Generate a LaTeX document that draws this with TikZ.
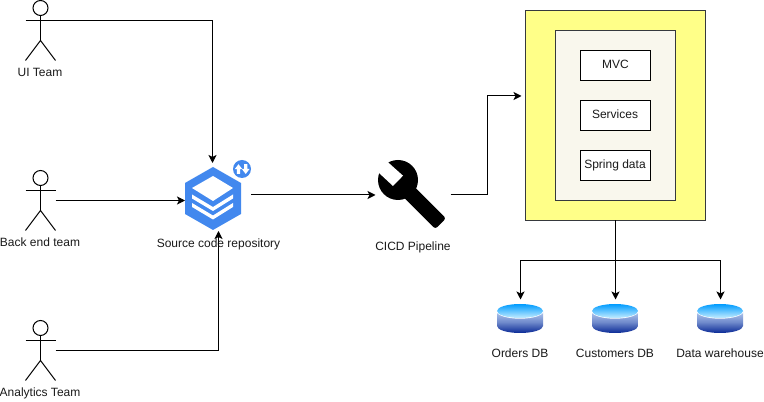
\documentclass[tikz,border=0pt]{standalone}
\usepackage{fontspec}
\setmainfont{Liberation Sans}
\usetikzlibrary{arrows.meta}
\definecolor{hexblue}{HTML}{4288EE}
\definecolor{boxedge}{HTML}{36393D}
\definecolor{txt}{HTML}{1A1A1A}
\definecolor{outeryellow}{HTML}{FFFF88}
\definecolor{innercream}{HTML}{F9F7ED}
\definecolor{cylmid}{HTML}{B4CBF0}
\definecolor{cyldark}{HTML}{0A2A96}
\definecolor{cyltop}{HTML}{009CFF}
\definecolor{cyllight}{HTML}{C4ECFF}
\tikzset{
  link/.style={draw=black,line width=0.75pt,-{Stealth[length=6pt,width=6pt,inset=1.5pt]}},
  label/.style={font=\fontsize{9}{11}\selectfont,text=txt,anchor=base,inner sep=0pt},
  actorbox/.style={inner sep=0pt,outer sep=0pt,minimum width=22.5pt,minimum height=45pt},
  outerbox/.style={draw=boxedge,line width=0.75pt,fill=outeryellow,inner sep=0pt,outer sep=0pt,minimum width=135pt,minimum height=157.5pt},
  innerbox/.style={draw=boxedge,line width=0.75pt,fill=innercream,inner sep=0pt,outer sep=0pt,minimum width=90pt,minimum height=127.5pt},
  layerbox/.style={draw=black,line width=0.75pt,fill=white,inner sep=0pt,outer sep=0pt,minimum width=52.5pt,minimum height=22.5pt},
  stick/.style={draw=black,line width=0.75pt},
  dbbox/.style={inner sep=0pt,outer sep=0pt,minimum width=34.5pt,minimum height=22pt},
}
\newcommand{\stickman}[2]{%
  \draw[stick] (#1,#2+7.5) circle (7.5);
  \draw[stick] (#1,#2+15) -- (#1,#2+40);
  \draw[stick] (#1-15,#2+20) -- (#1+15,#2+20);
  \draw[stick] (#1-15,#2+60) -- (#1,#2+40) -- (#1+15,#2+60);
}
\newcommand{\dbcyl}[1]{%
  \shade[top color=cylmid,bottom color=cyldark,middle color=cylmid!60!cyldark]
    (#1-23,311) -- (#1-23,326) arc[start angle=180,end angle=0,x radius=23,y radius=7]
    -- (#1+23,311) -- cycle;
  \fill[white] (#1,311) ellipse[x radius=23.7,y radius=7.7];
  \shade[top color=cyltop,bottom color=cyllight] (#1,311) ellipse[x radius=23,y radius=7];
}
\begin{document}
\begin{tikzpicture}[x=0.75pt,y=-0.75pt]
\useasboundingbox (0,0) rectangle (764,402);
\fill[white] (0,0) rectangle (764,402);

% actors
\stickman{40.5}{0.5}
\stickman{40.5}{170.5}
\stickman{40.5}{320.5}
\node[actorbox] (uiActor) at (40.5,30.5) {};
\node[actorbox] (backActor) at (40.5,200.5) {};
\node[actorbox] (anaActor) at (40.5,350.5) {};
\coordinate (uiStart) at (55.5,20.5);
\node[label] (uiLabel) at (40,77) {UI Team};
\node[label] (backLabel) at (40,247) {Back end team};
\node[label] (anaLabel) at (40,397) {Analytics Team};

% repository icon
\fill[hexblue] (213,167) -- (241,183) -- (241,214) -- (213,230) -- (185,214) -- (185,183) -- cycle;
\fill[white] (213,176) -- (233,188) -- (213,201) -- (192,188) -- cycle;
\fill[white] (192,194.5) -- (213,207) -- (233,194.5) -- (233,198.5) -- (213,211) -- (192,198.5) -- cycle;
\fill[white] (192,203) -- (213,215.5) -- (233,203) -- (233,207) -- (213,219.5) -- (192,207) -- cycle;
\fill[hexblue] (242,169) circle (9);
\fill[white] (238.5,164.2) -- (242.3,169.2) -- (240.2,169.2) -- (240.2,174) -- (236.8,174) -- (236.8,169.2) -- (234.7,169.2) -- cycle;
\fill[white] (245.7,174) -- (249.5,169) -- (247.4,169) -- (247.4,164.2) -- (244,164.2) -- (244,169) -- (241.9,169) -- cycle;
\node[inner sep=0pt,outer sep=0pt,minimum width=42pt,minimum height=47.25pt] (repoIcon) at (213,198.5) {};
\coordinate (repoTop) at (212.5,163);
\coordinate (repoLeft) at (185,200.5);
\coordinate (repoBottom) at (218.5,231);
\coordinate (repoOut) at (251,195);
\node[label] (repoLabel) at (218.5,248) {Source code repository};

% wrench icon
\fill[black] (398,180) circle (20);
\fill[black,rounded corners=2pt] (408.7,181) -- (446,218.3) -- (435.3,229) -- (398,191.7) -- cycle;
\fill[white] (393,186) -- (403,175.7) -- (381,156) -- (372,166.5) -- cycle;
\node[inner sep=0pt,outer sep=0pt,minimum width=51pt,minimum height=52.5pt] (cicdIcon) at (412.5,195) {};
\coordinate (cicdIn) at (375.5,195);
\coordinate (cicdOut) at (450.5,195);
\node[label] (cicdLabel) at (413,251) {CICD Pipeline};

% application boxes
\node[outerbox] (appOuter) at (615.5,115.5) {};
\node[innerbox] (appInner) at (615.5,115.5) {};
\node[layerbox] (mvc) at (615.5,65.5) {};
\node[layerbox] (services) at (615.5,115.5) {};
\node[layerbox] (spring) at (615.5,165.5) {};
\node[label] (mvcText) at (615.5,68.5) {MVC};
\node[label] (servicesText) at (615,118.5) {Services};
\node[label] (springText) at (615,168.5) {Spring data};
\coordinate (appIn) at (521.5,96);
\coordinate (busMid) at (615.5,260.5);

% databases
\dbcyl{520}
\dbcyl{615}
\dbcyl{720}
\node[dbbox] (ordersDb) at (520.5,318.5) {};
\node[dbbox] (customersDb) at (615.5,318.5) {};
\node[dbbox] (warehouseDb) at (720.5,318.5) {};
\coordinate (ordersTop) at (520.5,299.5);
\coordinate (customersTop) at (615.5,299.5);
\coordinate (warehouseTop) at (720.5,299.5);
\node[label] (ordersLabel) at (520,358) {Orders DB};
\node[label] (customersLabel) at (615,358) {Customers DB};
\node[label] (warehouseLabel) at (720,358) {Data warehouse};

% connectors
\draw[link] (uiStart) -| (repoTop);
\draw[link] (backActor.east) -- (repoLeft);
\draw[link] (anaActor.east) -| (repoBottom);
\draw[link] (repoOut) -- (cicdIn);
\draw[link] (cicdOut) -- (487.5,195) |- (appIn);
\draw[link] (appOuter.south) -- (customersTop);
\draw[link] (busMid) -| (ordersTop);
\draw[link] (busMid) -| (warehouseTop);
\end{tikzpicture}
\end{document}
